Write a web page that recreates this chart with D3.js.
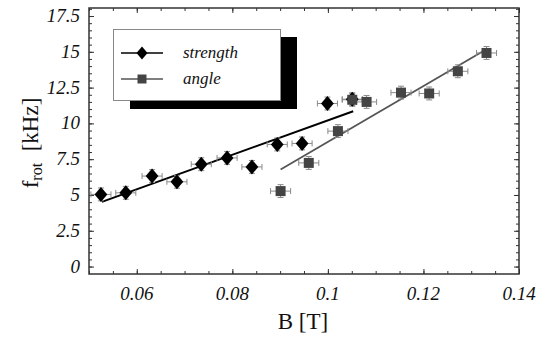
<!DOCTYPE html>
<html><head><meta charset="utf-8">
<script src="https://cdn.jsdelivr.net/npm/d3@7"></script>
<style>body{margin:0;background:#fff}svg{display:block}
text{font-family:"Liberation Serif","DejaVu Serif","Tinos","Noto Serif","FreeSerif","Nimbus Roman","Times New Roman",Times,serif}</style>
</head><body><svg id="c" width="540" height="339"></svg>
<script>
const strengthB = [0.0525,0.0577,0.0632,0.0684,0.0735,0.0789,0.0841,0.0894,0.0946,0.0999,0.1051];
const strengthF = [5.04,5.15,6.32,5.92,7.15,7.59,6.96,8.53,8.6,11.39,11.69];
const angleB = [0.0901,0.096,0.1021,0.1051,0.1081,0.1153,0.1212,0.1272,0.1332];
const angleF = [5.27,7.24,9.46,11.65,11.5,12.15,12.09,13.64,14.92];
const strengthFitB = [0.0527,0.1053];
const strengthFitF = [4.52,10.85];
const angleFitB = [0.0901,0.1331];
const angleFitF = [6.78,15.16];
const errB = 0.0021;
const errF = 0.45;
const xTicks = [0.06,0.08,0.1,0.12,0.14];
const xTickLabels = ["0.06","0.08","0.1","0.12","0.14"];
const yTicks = [0,2.5,5,7.5,10,12.5,15,17.5];
const yTickLabels = ["0","2.5","5","7.5","10","12.5","15","17.5"];
const legendLabels = ["strength","angle"];

const svg = d3.select("#c");
const L=89,R=519,T=8,B=274;
const x = d3.scaleLinear().domain([0.05,0.14]).range([L,R]);
const y = d3.scaleLinear().domain([-0.52,18.06]).range([B,T]);
const xMinor = d3.range(0.05,0.1401,0.005).map(v=>+v.toFixed(3));
const yMinor = d3.range(0,18.01,0.5);
const frameCol="#333";

function ticks(axisFn, scale, vals, size, tr){
  const g = svg.append("g").attr("transform",tr)
    .call(axisFn(scale).tickValues(vals).tickSize(size).tickFormat(""));
  g.select(".domain").remove();
  g.selectAll("line").attr("stroke",frameCol).attr("stroke-width",1);
}
ticks(d3.axisTop, x, xMinor, 3, `translate(0,${B})`);
ticks(d3.axisTop, x, xTicks, 5, `translate(0,${B})`);
ticks(d3.axisBottom, x, xMinor, 3, `translate(0,${T})`);
ticks(d3.axisBottom, x, xTicks, 5, `translate(0,${T})`);
ticks(d3.axisRight, y, yMinor, 3, `translate(${L},0)`);
ticks(d3.axisRight, y, yTicks, 5, `translate(${L},0)`);
ticks(d3.axisLeft, y, yMinor, 3, `translate(${R},0)`);
ticks(d3.axisLeft, y, yTicks, 5, `translate(${R},0)`);

svg.append("rect").attr("x",L).attr("y",T).attr("width",R-L).attr("height",B-T)
  .attr("fill","none").attr("stroke",frameCol).attr("stroke-width",1.5);

svg.append("g").selectAll("text").data(xTicks).join("text")
  .attr("x",d=>x(d)).attr("y",300).attr("text-anchor","middle")
  .style("font-style","italic").attr("font-size",19).attr("fill","#111")
  .text((d,i)=>xTickLabels[i]);
svg.append("g").selectAll("text").data(yTicks).join("text")
  .attr("x",80).attr("y",d=>y(d)+6).attr("text-anchor","end")
  .style("font-style","italic").attr("font-size",19).attr("fill","#111")
  .text((d,i)=>yTickLabels[i]);

svg.append("text").attr("x",303).attr("y",329).attr("text-anchor","middle")
  .attr("font-size",23).attr("fill","#111").text("B [T]");
const yt = svg.append("text").attr("transform","translate(38,143) rotate(-90)")
  .attr("text-anchor","middle").attr("font-size",23).attr("fill","#111");
yt.append("tspan").text("f");
yt.append("tspan").attr("font-size",16).attr("dy",4).text("rot");
yt.append("tspan").attr("dy",-4).text("\u00a0\u00a0[kHz]");

const line = d3.line().x(d=>x(d[0])).y(d=>y(d[1]));
svg.append("path").attr("d",line(strengthFitB.map((b,i)=>[b,strengthFitF[i]])))
  .attr("stroke","#000").attr("stroke-width",2).attr("fill","none");
svg.append("path").attr("d",line(angleFitB.map((b,i)=>[b,angleFitF[i]])))
  .attr("stroke","#555").attr("stroke-width",1.8).attr("fill","none");

function errs(bs,fs){
  const g = svg.append("g").attr("stroke","#8a8a8a").attr("stroke-width",1).attr("fill","none");
  bs.forEach((b,i)=>{
    const f=fs[i], cx=x(b), cy=y(f);
    const x0=x(b-errB), x1=x(b+errB), y0=y(f+errF), y1=y(f-errF);
    g.append("path").attr("d",`M${x0},${cy}H${x1}M${x0},${cy-3}V${cy+3}M${x1},${cy-3}V${cy+3}M${cx},${y0}V${y1}M${cx-3},${y0}H${cx+3}M${cx-3},${y1}H${cx+3}`);
  });
}
errs(strengthB,strengthF);
errs(angleB,angleF);

const diamond = (cx,cy,s)=>`M${cx},${cy-s}L${cx+s*0.85},${cy}L${cx},${cy+s}L${cx-s*0.85},${cy}Z`;
svg.append("g").selectAll("path").data(strengthB).join("path")
  .attr("d",(d,i)=>diamond(x(d),y(strengthF[i]),7.5)).attr("fill","#000");
svg.append("g").selectAll("rect").data(angleB).join("rect")
  .attr("x",d=>x(d)-5).attr("y",(d,i)=>y(angleF[i])-5).attr("width",10).attr("height",10)
  .attr("fill","#444");

svg.append("rect").attr("x",130).attr("y",37).attr("width",167).attr("height",72).attr("fill","#000");
svg.append("rect").attr("x",113.5).attr("y",29.5).attr("width",167).attr("height",71)
  .attr("fill","#fff").attr("stroke","#888").attr("stroke-width",1);
const lg = svg.append("g");
lg.append("line").attr("x1",121).attr("x2",163).attr("y1",53).attr("y2",53).attr("stroke","#000").attr("stroke-width",1.5);
lg.append("path").attr("d",diamond(142,53,6.5)).attr("fill","#000");
lg.append("line").attr("x1",121).attr("x2",163).attr("y1",79).attr("y2",79).attr("stroke","#555").attr("stroke-width",1.5);
lg.append("rect").attr("x",137.5).attr("y",74.5).attr("width",9).attr("height",9).attr("fill","#444");
lg.selectAll("text").data(legendLabels).join("text")
  .attr("x",183).attr("y",(d,i)=>[58,84][i]).style("font-style","italic")
  .attr("font-size",17).attr("fill","#111").text(d=>d);
</script></body></html>
